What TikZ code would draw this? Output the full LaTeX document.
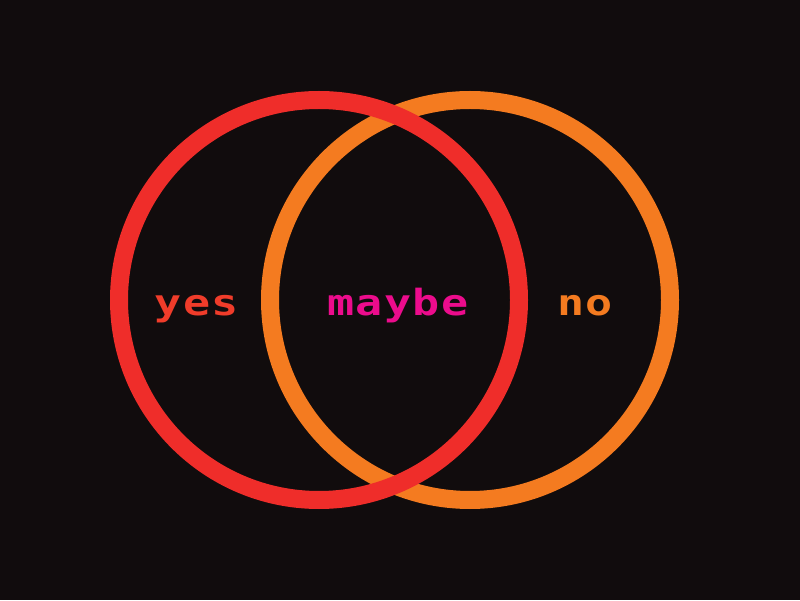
\documentclass[tikz,border=0pt]{standalone}
\usepackage{fontspec}
\usepackage{xcolor}
\usetikzlibrary{positioning}
\newfontfamily\pixfont[FakeStretch=1.25,LetterSpace=4]{DejaVu Sans Mono}
\definecolor{bgdark}{HTML}{110C0D}
\definecolor{ringred}{HTML}{EF2D2A}
\definecolor{ringorange}{HTML}{F47B20}
\definecolor{yescol}{HTML}{F03C2A}
\definecolor{maybecol}{HTML}{EC0C8C}
\tikzset{ring/.style={circle,draw,line width=18pt,minimum size=400pt,inner sep=0pt},
  word/.style={font=\pixfont\bfseries\fontsize{36}{36}\selectfont,anchor=base,inner sep=0pt}}

\begin{document}
\begin{tikzpicture}[x=1pt,y=1pt]
\fill[bgdark] (0,0) rectangle (800,600);
% orange first, red lies on top at both crossings
\node[ring,draw=ringorange] (noring) at (470,300) {};
\node[ring,draw=ringred] (yesring) at (319,300) {};
\node[word,text=yescol] (yes) at (197,284) {yes};
\node[word,text=maybecol] (maybe) at (398,284) {maybe};
\node[word,text=ringorange] (no) at (585,284) {no};
\end{tikzpicture}
\end{document}
